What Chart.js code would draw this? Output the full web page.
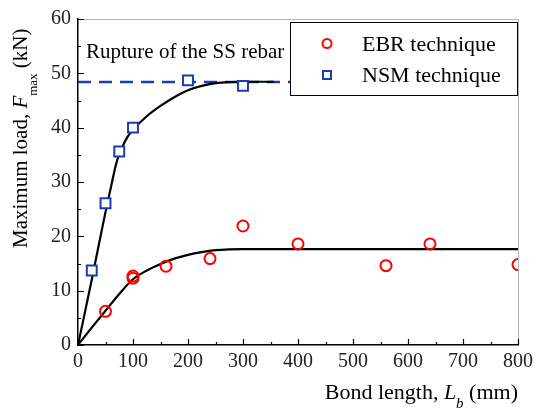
<!DOCTYPE html>
<html>
<head>
<meta charset="utf-8">
<script src="https://cdn.jsdelivr.net/npm/chart.js@4.4.1/dist/chart.umd.min.js"></script>
<style>
  html, body { margin: 0; padding: 0; background: #fff; }
  #wrap { width: 538px; height: 410px; }
</style>
</head>
<body>
<div id="wrap"><canvas id="bondChart"></canvas></div>
<script>
// test results
var ebrLength = [50, 100, 100, 160, 240, 300, 400, 560, 640, 800];
var ebrLoad = [6.2, 12.7, 12.3, 14.5, 15.9, 21.9, 18.6, 14.6, 18.6, 14.8];
var nsmLength = [25, 50, 75, 100, 200, 300];
var nsmLoad = [13.7, 26.1, 35.6, 40.0, 48.7, 47.7];

// fitted curves
var ebrFitLength = [0, 25, 50, 75, 100, 125, 150, 175, 200, 225, 250, 275, 300, 800];
var ebrFitLoad = [0, 3.2, 6.3, 9.4, 12.1, 13.7, 14.9, 15.9, 16.6, 17.1, 17.45, 17.6, 17.65, 17.65];
var nsmFitLength = [0, 25, 50, 60, 70, 80, 90, 100, 125, 150, 175, 200, 225, 250, 275, 300, 356];
var nsmFitLoad = [0, 12.0, 24.5, 29.1, 33.6, 36.3, 38.3, 39.6, 42.1, 44.0, 45.6, 46.9, 47.7, 48.2, 48.4, 48.45, 48.45];

// rupture load of the SS rebar
var ruptureLength = [0, 800];
var ruptureLoad = [48.4, 48.4];

var xTickValues = [0, 100, 200, 300, 400, 500, 600, 700, 800];
var yTickValues = [0, 10, 20, 30, 40, 50, 60];

var RED = '#ff0000';
var BLUE = '#1a3cae';
var FONT = '"Liberation Serif", "Times New Roman", serif';

function pts(xs, ys) {
  return xs.map(function (x, i) { return { x: x, y: ys[i] }; });
}

// inner ticks, grey frame, axis titles, note and legend
var decor = {
  id: 'decor',
  afterDraw: function (chart) {
    var ctx = chart.ctx, a = chart.chartArea;
    var xs = chart.scales.x, ys = chart.scales.y;
    ctx.save();

    ctx.strokeStyle = '#b4b4b4';
    ctx.lineWidth = 1;
    ctx.beginPath();
    ctx.moveTo(a.left, a.top + 0.5);
    ctx.lineTo(a.right + 0.5, a.top + 0.5);
    ctx.lineTo(a.right + 0.5, a.bottom);
    ctx.stroke();

    ctx.strokeStyle = '#000';
    ctx.lineWidth = 1.2;
    ctx.beginPath();
    for (var v = 0; v <= 800; v += 50) {
      var px = Math.round(xs.getPixelForValue(v)) + 0.5;
      var len = v % 100 === 0 ? 6 : 3;
      ctx.moveTo(px, a.bottom);
      ctx.lineTo(px, a.bottom - len);
    }
    for (var w = 0; w <= 60; w += 5) {
      var py = Math.round(ys.getPixelForValue(w)) + 0.5;
      var l2 = w % 10 === 0 ? 6 : 3;
      ctx.moveTo(a.left, py);
      ctx.lineTo(a.left + l2, py);
    }
    ctx.stroke();

    ctx.fillStyle = '#000';
    ctx.textBaseline = 'alphabetic';
    ctx.textAlign = 'left';

    // x title, right end on the plot edge
    var parts = [
      ['22px ', 'Bond length, ', 0],
      ['italic 22px ', 'L', 0],
      ['italic 15px ', 'b', 9],
      ['22px ', ' (mm)', 0]
    ];
    var total = 0;
    parts.forEach(function (p) { ctx.font = p[0] + FONT; total += ctx.measureText(p[1]).width; });
    var x0 = a.right - total, b0 = 399;
    parts.forEach(function (p) {
      ctx.font = p[0] + FONT;
      ctx.fillText(p[1], x0, b0 + p[2]);
      x0 += ctx.measureText(p[1]).width;
    });

    // y title
    ctx.save();
    ctx.translate(27, 248);
    ctx.rotate(-Math.PI / 2);
    var t = 0;
    ctx.font = '21px ' + FONT;
    ctx.fillText('Maximum load, ', t, 0);
    t += ctx.measureText('Maximum load, ').width;
    ctx.font = 'italic 21px ' + FONT;
    ctx.fillText('F', t, 0);
    t += ctx.measureText('F').width;
    ctx.font = '13px ' + FONT;
    ctx.fillText('max', t, 10);
    t += ctx.measureText('max').width;
    ctx.font = '21px ' + FONT;
    ctx.fillText(' (kN)', t, 0);
    ctx.restore();

    // note
    ctx.font = '21px ' + FONT;
    ctx.fillText('Rupture of the SS rebar', 86, 58);

    // legend
    ctx.fillStyle = '#fff';
    ctx.fillRect(290, 22, 227, 73);
    ctx.strokeStyle = '#000';
    ctx.lineWidth = 1;
    ctx.strokeRect(290.5, 22.5, 227, 73);
    ctx.lineWidth = 2;
    ctx.strokeStyle = RED;
    ctx.beginPath();
    ctx.arc(327, 43.5, 4.5, 0, Math.PI * 2);
    ctx.stroke();
    ctx.strokeStyle = BLUE;
    ctx.strokeRect(323, 71, 8, 8);
    ctx.fillStyle = '#000';
    ctx.font = '22px ' + FONT;
    ctx.fillText('EBR technique', 362, 51);
    ctx.fillText('NSM technique', 362, 82);

    ctx.restore();
  }
};

new Chart('bondChart', {
  type: 'scatter',
  data: {
    datasets: [
      {
        label: 'EBR technique',
        data: pts(ebrLength, ebrLoad),
        pointStyle: 'circle',
        pointRadius: 5.5,
        pointBorderWidth: 2,
        borderColor: RED,
        backgroundColor: 'rgba(0,0,0,0)',
        clip: 0,
        order: 1
      },
      {
        label: 'NSM technique',
        data: pts(nsmLength, nsmLoad),
        pointStyle: 'rect',
        pointRadius: 7,
        pointBorderWidth: 2,
        borderColor: BLUE,
        backgroundColor: '#fff',
        clip: 0,
        order: 1
      },
      {
        label: 'rupture',
        data: pts(ruptureLength, ruptureLoad),
        showLine: true,
        borderColor: BLUE,
        borderWidth: 2.5,
        borderDash: [13, 8],
        pointRadius: 0,
        order: 3
      },
      {
        label: 'EBR fit',
        data: pts(ebrFitLength, ebrFitLoad),
        showLine: true,
        borderColor: '#000',
        borderWidth: 2.2,
        cubicInterpolationMode: 'monotone',
        pointRadius: 0,
        order: 2
      },
      {
        label: 'NSM fit',
        data: pts(nsmFitLength, nsmFitLoad),
        showLine: true,
        borderColor: '#000',
        borderWidth: 2.2,
        cubicInterpolationMode: 'monotone',
        pointRadius: 0,
        order: 2
      }
    ]
  },
  options: {
    responsive: true,
    maintainAspectRatio: false,
    animation: false,
    layout: { padding: { left: 0, top: 16, right: 17, bottom: 0 } },
    plugins: {
      legend: { display: false },
      tooltip: { enabled: false }
    },
    scales: {
      x: {
        type: 'linear',
        min: 0,
        max: 800,
        afterBuildTicks: function (s) { s.ticks = xTickValues.map(function (v) { return { value: v }; }); },
        afterFit: function (s) { s.height = 65; },
        grid: { display: false, drawTicks: false },
        border: { display: true, color: '#000', width: 1.5 },
        ticks: { color: '#222', font: { family: FONT, size: 20 }, padding: 5, maxRotation: 0 }
      },
      y: {
        type: 'linear',
        min: 0,
        max: 60,
        afterBuildTicks: function (s) { s.ticks = yTickValues.map(function (v) { return { value: v }; }); },
        afterFit: function (s) { s.width = 78; },
        grid: { display: false, drawTicks: false },
        border: { display: true, color: '#000', width: 1.5 },
        ticks: { color: '#222', font: { family: FONT, size: 20 }, padding: 7 }
      }
    }
  },
  plugins: [decor]
});
</script>
</body>
</html>
